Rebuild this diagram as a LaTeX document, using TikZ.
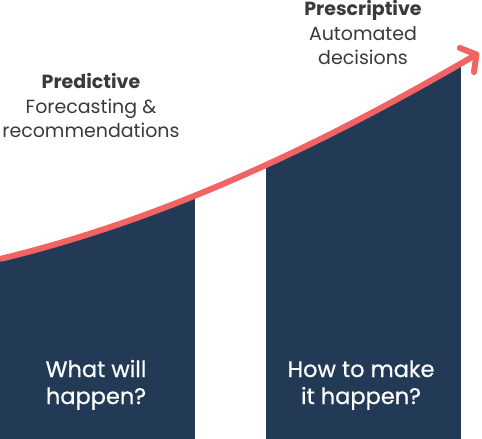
\documentclass[tikz,border=0pt]{standalone}
\usepackage{fontspec}
\setmainfont{Poppins}
\newfontfamily\qfont{Poppins}[FakeBold=0.6]
\usetikzlibrary{arrows.meta}
\definecolor{navy}{HTML}{233A57}
\definecolor{coral}{HTML}{F26464}
\definecolor{txt}{HTML}{3A3A3A}
\tikzset{
  head/.style={font=\fontsize{19}{24.5}\selectfont\bfseries, text=txt, inner sep=0pt, anchor=base},
  sub/.style={font=\fontsize{19}{24.5}\selectfont, text=txt, inner sep=0pt, anchor=base},
  question/.style={font=\qfont\fontsize{22.5}{27}\selectfont, text=white, inner sep=0pt, anchor=base},
  bar/.style={fill=navy, draw=none},
  growth/.style={draw=coral, line width=6pt, -{Straight Barb[length=11pt,width=28pt,round]}}
}
\begin{document}
\begin{tikzpicture}[x=1pt,y=-1pt]
\useasboundingbox (0,0) rectangle (482,439);
\coordinate (s) at (0,259);
\coordinate (e) at (479,53);
\begin{scope}
  \clip (s) .. controls (170,218) and (328,141) .. (e) -- (482,439) -- (0,439) -- cycle;
  \path[bar] (0,0) rectangle (195,439);
  \path[bar] (266,0) rectangle (461,439);
\end{scope}
\draw[growth] (s) .. controls (170,218) and (328,141) .. (e);
% top labels
\node[head] (pred) at (91,88) {Predictive};
\node[sub] (pred1) at (91,113) {Forecasting \&};
\node[sub] (pred2) at (91,137) {recommendations};
\node[head] (pres) at (363,15) {Prescriptive};
\node[sub] (pres1) at (363,40) {Automated};
\node[sub] (pres2) at (363,64) {decisions};
% questions
\node[question] (q1a) at (96,377) {What will};
\node[question] (q1b) at (96,404) {happen?};
\node[question] (q2a) at (361,377) {How to make};
\node[question] (q2b) at (361,404) {it happen?};
\end{tikzpicture}
\end{document}
